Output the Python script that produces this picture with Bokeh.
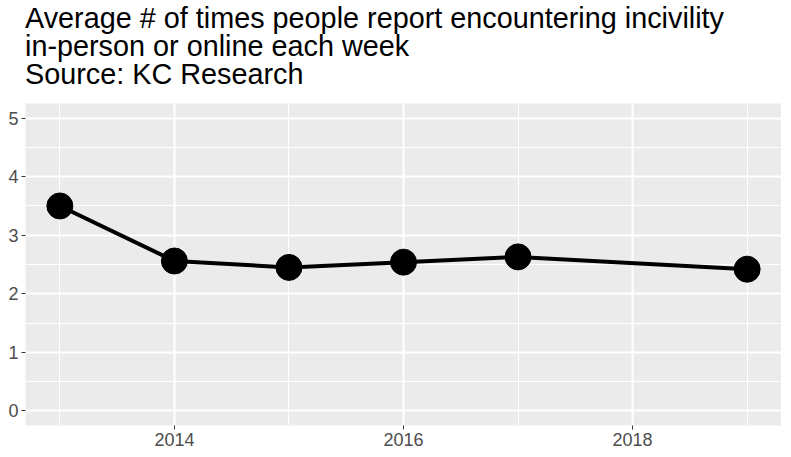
from bokeh.plotting import figure
from bokeh.models import Range1d, FixedTicker, ColumnDataSource, Div
from bokeh.layouts import column
from bokeh.embed import file_html
from bokeh.resources import INLINE

years = [2013, 2014, 2015, 2016, 2017, 2019]
avg_incivility = [3.50, 2.56, 2.45, 2.54, 2.63, 2.42]
x_ticks = [2014, 2016, 2018]
x_minor = [2013, 2015, 2017, 2019]
y_ticks = [0, 1, 2, 3, 4, 5]
y_minor = [0.5, 1.5, 2.5, 3.5, 4.5]
title_lines = [
    "Average # of times people report encountering incivility",
    "in-person or online each week",
    "Source: KC Research",
]

src = ColumnDataSource(dict(x=years, y=avg_incivility))
FONT = "Liberation Sans"

title_div = Div(text="<br>".join(title_lines), width=781, height=95, margin=(0, 0, 0, 0),
                styles={"font-family": FONT, "font-size": "28.8px", "line-height": "28.4px",
                        "color": "black", "padding-left": "25px", "padding-top": "3.5px",
                        "box-sizing": "border-box", "white-space": "nowrap"})

p = figure(width=781, height=353, output_backend="svg", toolbar_location=None,
           x_range=Range1d(2012.7, 2019.3), y_range=Range1d(-0.25, 5.25),
           min_border_left=25, min_border_right=0, min_border_top=8, min_border_bottom=0,
           margin=(0, 0, 0, 0))
p.title = None

p.background_fill_color = "#EBEBEB"
p.border_fill_color = "white"
p.outline_line_color = None

p.xaxis.ticker = FixedTicker(ticks=x_ticks, minor_ticks=x_minor)
p.yaxis.ticker = FixedTicker(ticks=y_ticks, minor_ticks=y_minor)
for ax in (p.xaxis, p.yaxis):
    ax.axis_line_color = None
    ax.major_tick_line_color = "#333333"
    ax.major_tick_out = 4
    ax.major_tick_in = 0
    ax.minor_tick_line_color = None
    ax.major_label_text_font = FONT
    ax.major_label_text_font_size = "18px"
    ax.major_label_text_color = "#4D4D4D"
    ax.major_label_standoff = 3

for g in (p.xgrid, p.ygrid):
    g.grid_line_color = "white"
    g.grid_line_width = 2
    g.minor_grid_line_color = "white"
    g.minor_grid_line_width = 1

p.line("x", "y", source=src, line_color="black", line_width=4)
p.scatter("x", "y", source=src, size=26, fill_color="black", line_color="black")

layout = column(title_div, p, spacing=0)
open("out.html", "w").write(file_html(layout, INLINE))
